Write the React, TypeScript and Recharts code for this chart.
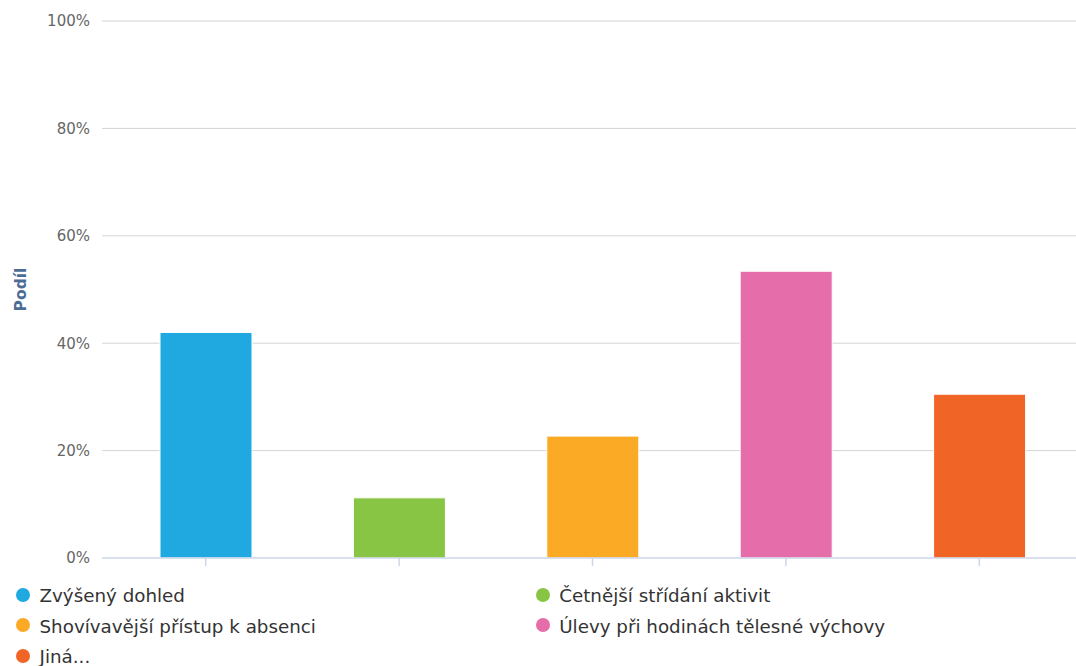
import React from 'react';
import { BarChart, Bar, XAxis, YAxis, CartesianGrid, Cell, Legend, Label } from 'recharts';

// Answer categories (one bar per answer)
const categories = [
  'Zvýšený dohled',
  'Četnější střídání aktivit',
  'Shovívavější přístup k absenci',
  'Úlevy při hodinách tělesné výchovy',
  'Jiná...',
];

// Share of respondents per answer, in percent
const shares = [42.0, 11.2, 22.7, 53.4, 30.5];

const barColors = ['#20a9e1', '#89c545', '#fbaa25', '#e56da9', '#f06525'];

const yTicks = [0, 20, 40, 60, 80, 100];

const data = categories.map((name, i) => ({ name, share: shares[i] }));

const FONT = '"DejaVu Sans", Verdana, sans-serif';

const renderLegend = () => (
  <div style={{ position: 'relative', width: 1076, height: 85, fontFamily: FONT }}>
    {categories.map((name, i) => {
      const row = Math.floor(i / 2);
      const col = i % 2;
      return (
        <div
          key={name}
          style={{
            position: 'absolute',
            left: 16 + col * 519.7,
            top: row * 30.5,
            height: 30.5,
            display: 'flex',
            alignItems: 'center',
            whiteSpace: 'nowrap',
          }}
        >
          <span
            style={{
              display: 'inline-block',
              width: 14,
              height: 14,
              borderRadius: 7,
              background: barColors[i],
              marginRight: 9.5,
              position: 'relative',
              top: -1.5,
            }}
          />
          <span style={{ fontSize: 18.3, color: '#333333', lineHeight: '30.5px' }}>{name}</span>
        </div>
      );
    })}
  </div>
);

// Category axis shows only tick marks, no text
const EmptyTick = () => <g />;

export default function App() {
  return (
    <div style={{ position: 'absolute', left: 0, top: 0, width: 1076, height: 666, background: '#ffffff' }}>
      <BarChart
        width={1076}
        height={666}
        data={data}
        margin={{ top: 21, right: 0, bottom: 96, left: 0 }}
      >
        <CartesianGrid vertical={false} horizontalValues={[20, 40, 60, 80, 100]} stroke="#d4d4d4" strokeWidth={1} />
        <XAxis
          dataKey="name"
          height={12}
          tick={EmptyTick}
          tickSize={8}
          interval={0}
          padding={{ left: 7, right: 0 }}
          axisLine={{ stroke: '#ccd6eb', strokeWidth: 1.5 }}
          tickLine={{ stroke: '#ccd6eb', strokeWidth: 1.5 }}
        />
        <YAxis
          width={102}
          domain={[0, 100]}
          ticks={yTicks}
          interval={0}
          tickFormatter={(v: number) => `${v}%`}
          axisLine={false}
          tickLine={false}
          tickSize={0}
          tickMargin={12}
          tick={{ fill: '#666666', fontSize: 15, fontFamily: FONT }}
        >
          <Label
            content={() => (
              <text
                x={26}
                y={289.5}
                transform="rotate(-90 26 289.5)"
                textAnchor="middle"
                fill="#4a6d96"
                fontWeight="bold"
                fontSize={15.5}
                fontFamily={FONT}
              >
                Podíl
              </text>
            )}
          />
        </YAxis>
        <Legend
          layout="horizontal"
          verticalAlign="middle"
          align="center"
          content={renderLegend}
          wrapperStyle={{ position: 'absolute', left: 0, top: 581, width: 1076, height: 85 }}
        />
        <Bar dataKey="share" barSize={92} stroke="#ffffff" strokeWidth={1} isAnimationActive={false}>
          {data.map((d, i) => (
            <Cell key={d.name} fill={barColors[i]} />
          ))}
        </Bar>
      </BarChart>
    </div>
  );
}
